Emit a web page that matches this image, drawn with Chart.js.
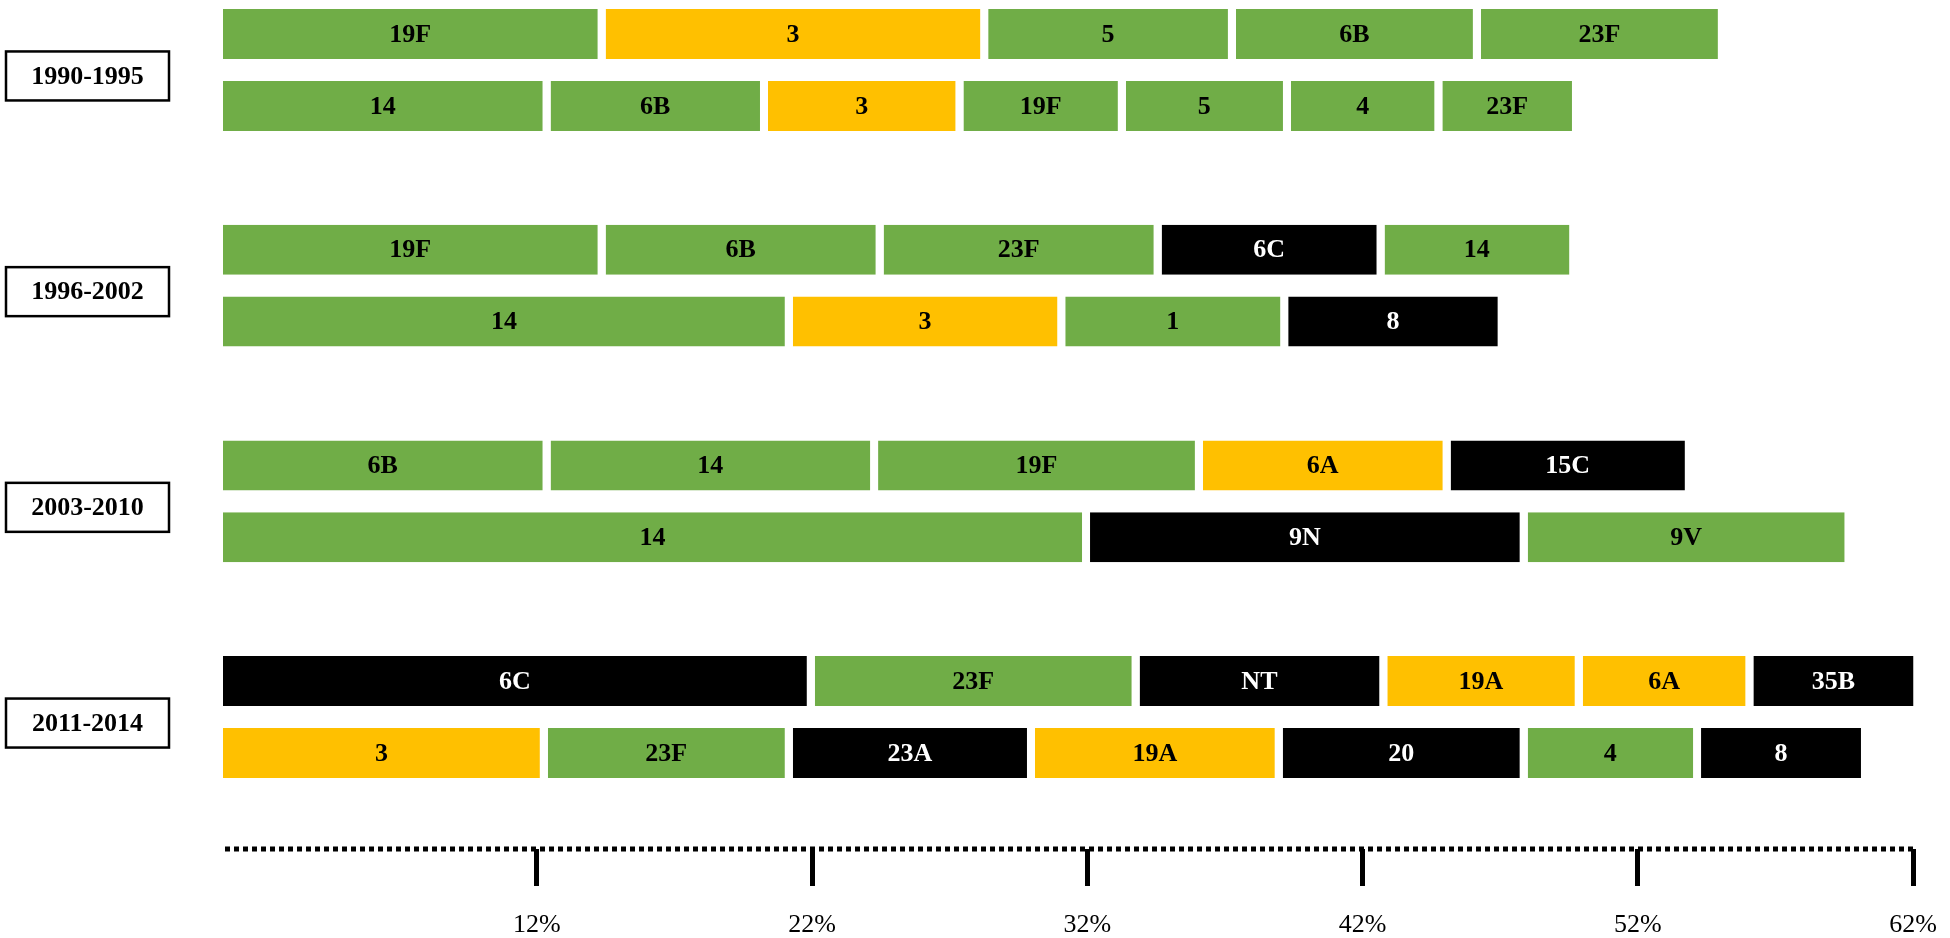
<!DOCTYPE html>
<html>
<head>
<meta charset="utf-8">
<script src="https://cdn.jsdelivr.net/npm/chart.js@4.4.1/dist/chart.umd.min.js"></script>
<style>
  html, body { margin: 0; padding: 0; background: #fff; }
  #wrap { width: 1950px; height: 938px; position: relative; }
</style>
</head>
<body>
<div id="wrap"><canvas id="serotypes"></canvas></div>
<script>
// periods, two rows of serotypes for each
const periods = ['1990-1995', '1996-2002', '2003-2010', '2011-2014'];

const row1Types = ['19F', '3', '5', '6B', '23F'];
const row1Share = [13.9, 13.9, 9.0, 8.9, 8.9];
const row2Types = ['14', '6B', '3', '19F', '5', '4', '23F'];
const row2Share = [11.9, 7.9, 7.1, 5.9, 6.0, 5.5, 5.0];

const row3Types = ['19F', '6B', '23F', '6C', '14'];
const row3Share = [13.9, 10.1, 10.1, 8.1, 7.0];
const row4Types = ['14', '3', '1', '8'];
const row4Share = [20.7, 9.9, 8.1, 7.9];

const row5Types = ['6B', '14', '19F', '6A', '15C'];
const row5Share = [11.9, 11.9, 11.8, 9.0, 8.8];
const row6Types = ['14', '9N', '9V'];
const row6Share = [31.5, 15.9, 11.8];

const row7Types = ['6C', '23F', 'NT', '19A', '6A', '35B'];
const row7Share = [21.5, 11.8, 9.0, 7.1, 6.2, 6.1];
const row8Types = ['3', '23F', '23A', '19A', '20', '4', '8'];
const row8Share = [11.8, 8.9, 8.8, 9.0, 8.9, 6.3, 6.1];

const xTicks = [12, 22, 32, 42, 52, 62];

// vaccine groups -> colour
const pcv10Types = ['1', '4', '5', '6B', '7F', '9V', '14', '18C', '19F', '23F'];
const pcv13Extra = ['3', '6A', '19A'];

const AXIS_MIN = 0.6;
const AXIS_MAX = 62;
const AXIS_AT = 11.335;   // where the x axis sits, in row slots
const GAP = 8;

function groupOf(t) {
    if (pcv10Types.includes(t)) return 'pcv10';
    if (pcv13Extra.includes(t)) return 'pcv13';
    return 'other';
}
function colorFor(t) {
    return { pcv10: '#70AD47', pcv13: '#FFC000', other: '#000000' }[groupOf(t)];
}

const rowTypes = [row1Types, row2Types, row3Types, row4Types, row5Types, row6Types, row7Types, row8Types];
const rowShares = [row1Share, row2Share, row3Share, row4Share, row5Share, row6Share, row7Share, row8Share];
const rowSlots = [0, 1, 3, 4, 6, 7, 9, 10];
const slotCount = 11;

const labels = Array.from({ length: slotCount }, (_, s) => {
    const r = rowSlots.indexOf(s);
    return r < 0 ? 'gap ' + s : periods[Math.floor(r / 2)] + ' #' + (r % 2 + 1);
});

const maxSegs = Math.max(...rowTypes.map(t => t.length));
const datasets = [];
for (let j = 0; j < maxSegs; j++) {
    const data = new Array(slotCount).fill(null);
    const names = new Array(slotCount).fill(null);
    const colors = new Array(slotCount).fill('#fff');
    rowSlots.forEach((slot, r) => {
        if (j >= rowTypes[r].length) return;
        const start = AXIS_MIN + rowShares[r].slice(0, j).reduce((a, b) => a + b, 0);
        data[slot] = [start, start + rowShares[r][j]];
        names[slot] = rowTypes[r][j];
        colors[slot] = colorFor(rowTypes[r][j]);
    });
    datasets.push({ label: 'segment ' + (j + 1), data, serotypes: names, backgroundColor: colors });
}

const SERIF = '"Liberation Serif", "Times New Roman", serif';

// serotype names inside the bars, period boxes on the left, dotted axis line
const segmentLabels = {
    id: 'segmentLabels',
    afterDatasetsDraw(chart) {
        const ctx = chart.ctx;
        const yScale = chart.scales.y;
        const xScale = chart.scales.x;
        ctx.save();

        // dotted axis line
        const ay = yScale.getPixelForValue(AXIS_AT);
        ctx.strokeStyle = '#000';
        ctx.lineWidth = 5;
        ctx.setLineDash([5, 4]);
        ctx.beginPath();
        ctx.moveTo(xScale.left + 2, ay);
        ctx.lineTo(xScale.right, ay);
        ctx.stroke();
        ctx.setLineDash([]);

        ctx.font = 'bold 26px ' + SERIF;
        ctx.textAlign = 'center';
        ctx.textBaseline = 'middle';
        chart.data.datasets.forEach((ds, j) => {
            chart.getDatasetMeta(j).data.forEach((bar, i) => {
                const name = ds.serotypes[i];
                if (!name) return;
                const p = bar.getProps(['x', 'base', 'y'], true);
                ctx.fillStyle = groupOf(name) === 'other' ? '#fff' : '#000';
                ctx.fillText(name, (p.base + p.x - GAP) / 2, p.y + 1);
            });
        });

        periods.forEach((p, k) => {
            const cy = (yScale.getPixelForValue(rowSlots[2 * k]) + yScale.getPixelForValue(rowSlots[2 * k + 1])) / 2 + 6;
            ctx.fillStyle = '#fff';
            ctx.fillRect(6, cy - 24.5, 163, 49);
            ctx.lineWidth = 2.5;
            ctx.strokeStyle = '#000';
            ctx.strokeRect(6, cy - 24.5, 163, 49);
            ctx.fillStyle = '#000';
            ctx.fillText(p, 6 + 163 / 2, cy + 1);
        });
        ctx.restore();
    }
};

new Chart(document.getElementById('serotypes'), {
    type: 'bar',
    data: { labels, datasets },
    options: {
        indexAxis: 'y',
        responsive: true,
        maintainAspectRatio: false,
        animation: false,
        events: [],
        layout: { padding: { left: 223, right: 37, top: 34, bottom: 185 } },
        plugins: { legend: { display: false }, tooltip: { enabled: false } },
        datasets: {
            bar: {
                grouped: false,
                clip: false,
                barThickness: 50,
                borderSkipped: false,
                borderWidth: { left: 0, right: GAP, top: 0, bottom: 0 },
                borderColor: '#fff',
                inflateAmount: 0
            }
        },
        scales: {
            y: { type: 'category', display: false, offset: false },
            x: {
                type: 'linear',
                min: AXIS_MIN,
                max: AXIS_MAX,
                position: { y: AXIS_AT },
                afterBuildTicks: s => { s.ticks = xTicks.map(v => ({ value: v })); },
                afterFit: s => { s.paddingLeft = 0; s.paddingRight = 0; },
                grid: { drawOnChartArea: false, drawTicks: true, tickLength: 37, tickWidth: 5, tickColor: '#000' },
                border: { display: false },
                ticks: {
                    color: '#000',
                    font: { family: SERIF, size: 26 },
                    padding: 24,
                    autoSkip: false,
                    maxRotation: 0,
                    callback: v => v + '%'
                }
            }
        }
    },
    plugins: [segmentLabels]
});
</script>
</body>
</html>
